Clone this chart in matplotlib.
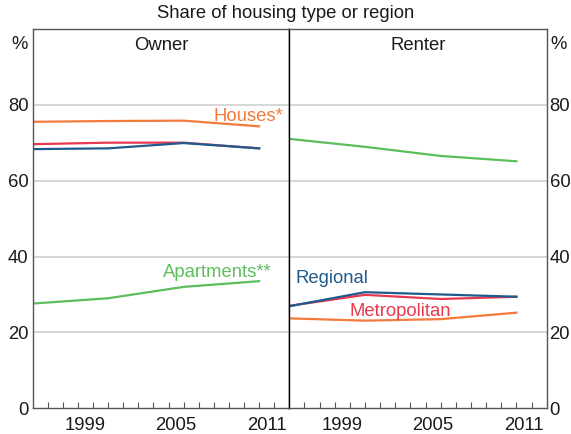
import matplotlib
matplotlib.use('Agg')
import matplotlib.pyplot as plt
from matplotlib.ticker import FixedLocator, NullFormatter

plt.rcParams['font.family'] = ['Liberation Sans', 'DejaVu Sans']
plt.rcParams['font.size'] = 13.3

# census years
years = [1996, 2001, 2006, 2011]

# Owner panel (% share)
owner_houses = [75.5, 75.7, 75.8, 74.3]
owner_apartments = [27.6, 29.0, 32.0, 33.5]
owner_metro = [69.6, 70.0, 70.0, 68.5]
owner_regional = [68.3, 68.5, 69.9, 68.5]

# Renter panel (% share)
renter_houses = [23.7, 23.1, 23.5, 25.2]
renter_apartments = [71.0, 68.9, 66.5, 65.1]
renter_metro = [27.0, 29.9, 28.8, 29.4]
renter_regional = [26.9, 30.6, 30.0, 29.4]

year_labels = ['1999', '2005', '2011']
label_pos = [1999.5, 2005.5, 2011.5]
minor_years = list(range(1997, 2013))
y_ticks = [0, 20, 40, 60, 80]

c_house = '#F37A3A'
c_apt = '#5DBE5D'
c_metro = '#E8394F'
c_reg = '#1D5A8E'
txt = '#1a1a1a'

fig = plt.figure(figsize=(5.71, 4.34), dpi=100)
ax1 = fig.add_axes([0.0573, 0.0592, 0.4494, 0.8744])
ax2 = fig.add_axes([0.5067, 0.0592, 0.4508, 0.8744])

panels = [
    (ax1, 'Owner', owner_houses, owner_apartments, owner_metro, owner_regional),
    (ax2, 'Renter', renter_houses, renter_apartments, renter_metro, renter_regional),
]

for ax, name, h, a, m, r in panels:
    ax.set_xlim(1996, 2013)
    ax.set_ylim(0, 100)
    for g in y_ticks[1:]:
        ax.axhline(g, color='#d3d3d3', lw=1.3, zorder=0)
    ax.plot(years, h, color=c_house, lw=1.6)
    ax.plot(years, a, color=c_apt, lw=1.6)
    ax.plot(years, m, color=c_metro, lw=1.6)
    ax.plot(years, r, color=c_reg, lw=1.6)

    ax.xaxis.set_major_locator(FixedLocator(label_pos))
    ax.set_xticklabels(year_labels, color=txt)
    ax.xaxis.set_minor_locator(FixedLocator(minor_years))
    ax.xaxis.set_minor_formatter(NullFormatter())
    ax.tick_params(axis='x', which='major', length=0, pad=6)
    ax.tick_params(axis='x', which='minor', direction='in', length=4, width=0.8, color='#555555')

    ax.set_yticks(y_ticks)
    ax.tick_params(axis='y', length=0, labelcolor=txt)
    for s in ax.spines.values():
        s.set_color('#555555')
        s.set_linewidth(1)

    ax.text(0.5, 95.5, name, transform=ax.get_yaxis_transform(), ha='center', va='center', color=txt)

ax1.tick_params(axis='y', pad=3)
ax2.yaxis.tick_right()
ax2.tick_params(axis='y', pad=2)
ax1.spines['right'].set_color('black')
ax2.spines['left'].set_color('black')

ax1.text(-0.02, 98, '%', transform=ax1.get_yaxis_transform(), ha='right', va='top', color=txt)
ax2.text(1.015, 98, '%', transform=ax2.get_yaxis_transform(), ha='left', va='top', color=txt)

# series labels
ax1.text(2012.6, 75.8, 'Houses*', color=c_house, ha='right', va='baseline')
ax1.text(2011.85, 34.7, 'Apartments**', color=c_apt, ha='right', va='baseline')
ax2.text(1996.4, 33.0, 'Regional', color=c_reg, ha='left', va='baseline')
ax2.text(2000.0, 24.3, 'Metropolitan', color=c_metro, ha='left', va='baseline')

fig.text(0.5, 0.968, 'Share of housing type or region', ha='center', va='center', color=txt)

fig.savefig('out.png', dpi=100)
